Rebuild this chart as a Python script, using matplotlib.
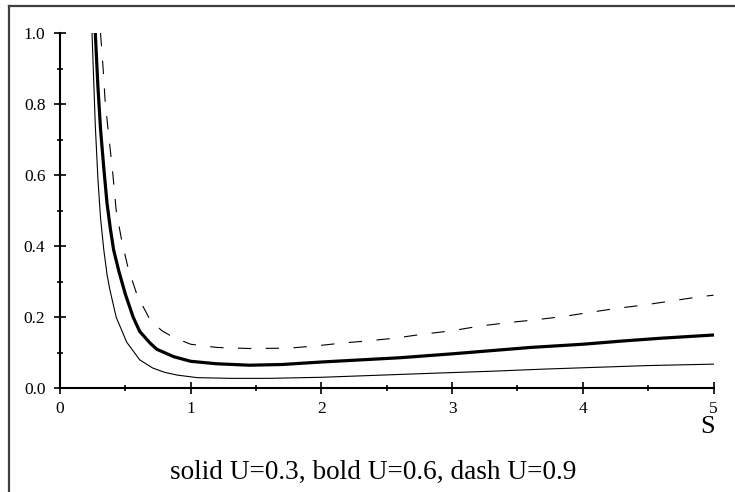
import matplotlib
matplotlib.use("Agg")
import matplotlib.pyplot as plt
from matplotlib.lines import Line2D
from matplotlib.ticker import MultipleLocator, FormatStrFormatter

# curve data (S on x, value on y)
s_thin = [0.245, 0.27, 0.29, 0.31, 0.335, 0.36, 0.38, 0.43, 0.51, 0.61, 0.71, 0.80, 0.90,
          1.05, 1.3, 1.6, 2.0, 2.45, 2.9, 3.3, 3.7, 4.1, 4.5, 5.0]
y_thin = [1.0, 0.74, 0.59, 0.48, 0.39, 0.32, 0.28, 0.20, 0.13, 0.08, 0.057, 0.045, 0.037,
          0.030, 0.028, 0.028, 0.031, 0.037, 0.043, 0.048, 0.054, 0.059, 0.064, 0.068]

s_bold = [0.27, 0.29, 0.31, 0.335, 0.36, 0.385, 0.41, 0.45, 0.50, 0.56, 0.61, 0.69, 0.74,
          0.87, 1.0, 1.2, 1.45, 1.7, 2.0, 2.3, 2.6, 3.0, 3.3, 3.6, 4.0, 4.3, 4.6, 5.0]
y_bold = [1.0, 0.85, 0.73, 0.62, 0.52, 0.45, 0.39, 0.33, 0.265, 0.20, 0.16, 0.127, 0.11,
          0.089, 0.076, 0.069, 0.065, 0.067, 0.074, 0.080, 0.086, 0.097, 0.106, 0.115,
          0.124, 0.133, 0.141, 0.150]

s_dash = [0.31, 0.33, 0.345, 0.37, 0.40, 0.43, 0.47, 0.52, 0.59, 0.69, 0.78, 0.87, 1.0,
          1.2, 1.45, 1.75, 1.95, 2.15, 2.37, 2.56, 2.77, 3.0, 3.21, 3.43, 3.62, 3.85,
          4.06, 4.26, 4.48, 4.68, 4.9, 5.0]
y_dash = [1.0, 0.90, 0.81, 0.72, 0.62, 0.50, 0.42, 0.34, 0.262, 0.192, 0.162, 0.143, 0.124,
          0.115, 0.112, 0.113, 0.119, 0.127, 0.134, 0.141, 0.152, 0.162, 0.175, 0.185,
          0.192, 0.202, 0.214, 0.225, 0.235, 0.246, 0.258, 0.262]

caption = "solid U=0.3, bold U=0.6, dash U=0.9"

plt.rcParams['font.family'] = ['Liberation Serif', 'DejaVu Serif']

W, H = 735, 492
fig = plt.figure(figsize=(W / 100, H / 100), dpi=100)
ax = fig.add_axes([60 / W, 1 - 388.3 / H, 653.5 / W, 355.3 / H])

ax.plot(s_thin, y_thin, color='black', lw=0.8)
ax.plot(s_bold, y_bold, color='black', lw=2.3)
ax.plot(s_dash, y_dash, color='black', lw=0.8, dashes=[12, 13])

ax.set_xlim(0, 5)
ax.set_ylim(0, 1)
for side in ['top', 'right']:
    ax.spines[side].set_visible(False)
for side in ['left', 'bottom']:
    ax.spines[side].set_linewidth(1.5)

ax.xaxis.set_major_locator(MultipleLocator(1))
ax.xaxis.set_minor_locator(MultipleLocator(0.5))
ax.yaxis.set_major_locator(MultipleLocator(0.2))
ax.yaxis.set_minor_locator(MultipleLocator(0.1))
ax.yaxis.set_major_formatter(FormatStrFormatter('%.1f'))
ax.xaxis.set_major_formatter(FormatStrFormatter('%d'))
ax.tick_params(which='major', direction='inout', length=8, width=1.2, labelsize=12.5, pad=5)
ax.tick_params(which='minor', direction='inout', length=4.5, width=1.2)
ax.tick_params(axis='y', which='major', pad=6.5)

fig.text(708 / W, 1 - 433 / H, "S", fontsize=19, ha='center', va='baseline')
fig.text(373.5 / W, 1 - 479 / H, caption, fontsize=19.6, ha='center', va='baseline')

# frame around the picture (top and left edges visible)
fig.add_artist(Line2D([9 / W, 1.0], [1 - 6 / H, 1 - 6 / H], color='#404040', lw=1.6,
                      transform=fig.transFigure))
fig.add_artist(Line2D([9 / W, 9 / W], [0.0, 1 - 6 / H], color='#404040', lw=1.6,
                      transform=fig.transFigure))

fig.savefig("out.png", dpi=100)
